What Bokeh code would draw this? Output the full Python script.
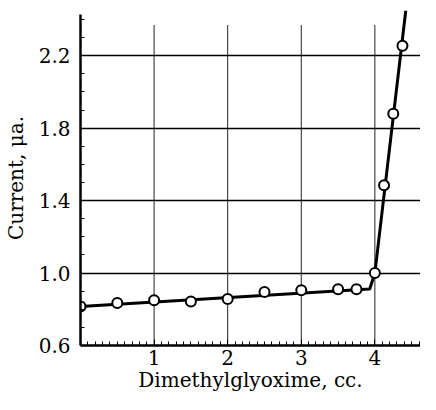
from bokeh.plotting import figure
from bokeh.models import FixedTicker, Range1d, PrintfTickFormatter
from bokeh.embed import file_html
from bokeh.resources import INLINE

# measured points
volume = [0, 0.5, 1.0, 1.5, 2.0, 2.5, 3.0, 3.5, 3.75, 4.0, 4.125, 4.25, 4.375]
current = [0.815, 0.835, 0.85, 0.843, 0.857, 0.895, 0.905, 0.91, 0.91, 1.0, 1.485, 1.88, 2.255]

# drawn titration line (two straight branches)
line_x = [0, 3.93, 4.0, 4.42]
line_y = [0.816, 0.912, 1.0, 2.45]

x_ticks = [1, 2, 3, 4]
y_ticks = [0.6, 1.0, 1.4, 1.8, 2.2]
x_minor = [round(0.1 * i, 1) for i in range(1, 47)]
y_minor = [round(0.6 + 0.1 * i, 1) for i in range(1, 19)]
grid_top = 2.37

FONT = "DejaVu Serif"

p = figure(width=420, height=394, output_backend="svg", toolbar_location=None,
           x_range=Range1d(0, 4.62), y_range=Range1d(0.6, 2.45),
           min_border_left=78, min_border_right=0, min_border_top=10, min_border_bottom=46)
p.outline_line_color = None
p.background_fill_color = "white"
p.border_fill_color = "white"

# grid
p.xgrid.visible = False
p.ygrid.ticker = FixedTicker(ticks=y_ticks)
p.ygrid.grid_line_color = "black"
p.ygrid.grid_line_width = 1.5
p.segment(x0=x_ticks, y0=[0.6] * len(x_ticks), x1=x_ticks, y1=[grid_top] * len(x_ticks),
          line_color="#222222", line_width=1)

# axes
for ax in (p.xaxis[0], p.yaxis[0]):
    ax.axis_line_width = 2.5
    ax.axis_line_color = "black"
    ax.major_tick_in = 6
    ax.major_tick_out = 0
    ax.minor_tick_in = 4
    ax.minor_tick_out = 0
    ax.major_tick_line_color = "black"
    ax.minor_tick_line_color = "black"
    ax.major_label_text_font = FONT
    ax.major_label_text_font_size = "20px"
    ax.major_label_text_color = "black"
    ax.axis_label_text_font = FONT
    ax.axis_label_text_font_size = "20px"
    ax.axis_label_text_font_style = "normal"
    ax.axis_label_text_color = "black"

p.xaxis.ticker = FixedTicker(ticks=x_ticks, minor_ticks=x_minor)
p.yaxis.ticker = FixedTicker(ticks=y_ticks, minor_ticks=y_minor)
p.yaxis.formatter = PrintfTickFormatter(format="%.1f")
p.yaxis.bounds = (0.6, 2.43)
p.xaxis.axis_label = "Dimethylglyoxime, cc."
p.yaxis.axis_label = "Current, μa."
p.xaxis.major_label_standoff = 4
p.xaxis.axis_label_standoff = 0
p.yaxis.major_label_standoff = 10
p.yaxis.axis_label_standoff = 8

# data
p.line(line_x, line_y, line_color="black", line_width=3)
p.scatter(volume, current, size=10, fill_color="white", line_color="black", line_width=2)

open("out.html", "w").write(file_html(p, INLINE))
